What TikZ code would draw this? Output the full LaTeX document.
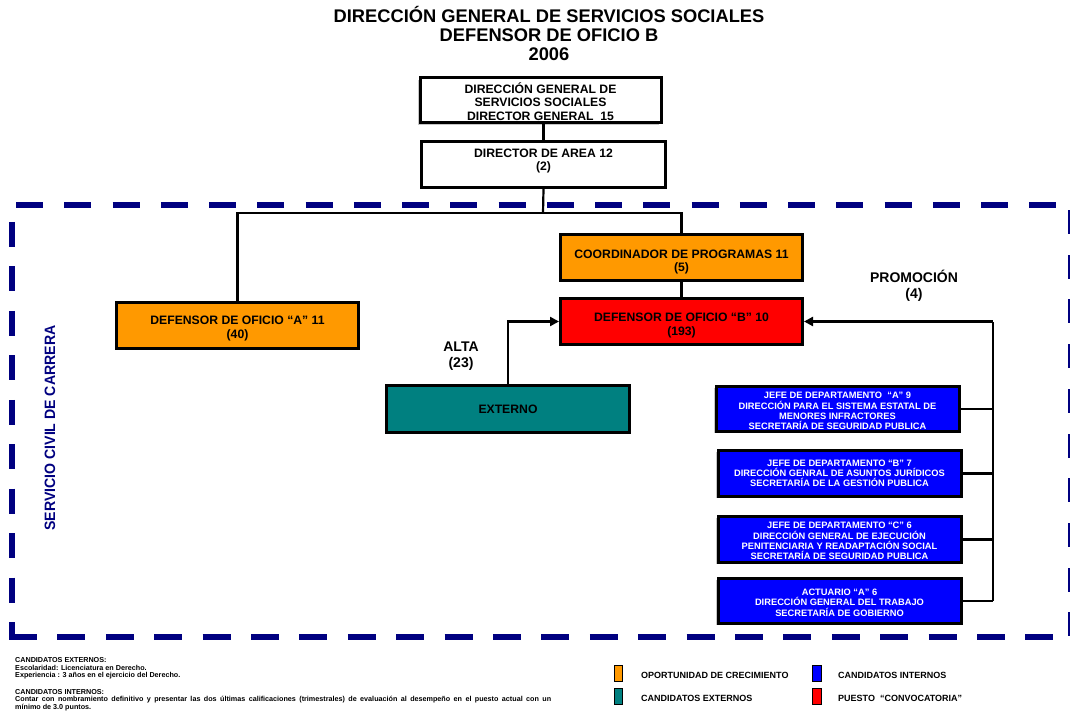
\documentclass[tikz,border=0pt]{standalone}
\usepackage{fontspec}
\setmainfont{Liberation Sans}
\usetikzlibrary{arrows.meta,shadows}
\definecolor{growth}{HTML}{FF9900}
\definecolor{callpost}{HTML}{FF0000}
\definecolor{extern}{HTML}{008080}
\definecolor{intern}{HTML}{0000FF}
\definecolor{career}{HTML}{000080}
\newcommand{\fs}[2]{\fontsize{#1}{#2}\selectfont\bfseries}
% invisible strut that sets the height of a first text line
\newcommand{\lead}[1]{\rule{0pt}{#1pt}}
\begin{document}
\begin{tikzpicture}[x=1pt,y=-1pt,
  box/.style={draw=black, line width=3pt, inner sep=0pt, align=center,
    general shadow={fill=gray!45, shadow xshift=-1.6pt, shadow yshift=-1.6pt}},
  bigbox/.style={box, font=\fs{12.2}{13.5}},
  bluebox/.style={box, fill=intern, text=white, minimum width=243pt, font=\fs{9.3}{10.2}},
  conn/.style={draw=black, line width=2.2pt},
  arrow/.style={conn, -{Triangle[length=9pt,width=9pt]}},
  tag/.style={font=\fs{14}{16}, align=center},
  border/.style={draw=career, line width=6pt},
  swatch/.style={draw=black, line width=1pt, minimum width=8.5pt, minimum height=16pt, inner sep=0pt},
  legend/.style={anchor=west, font=\fs{9}{10}, inner sep=0pt},
  note/.style={anchor=west, font=\fs{7.2}{8}, inner sep=0pt}]
\useasboundingbox (0,0) rectangle (1070,719);

% heading
\node[font=\fs{18.3}{19}, align=center] (title) at (549,33)
  {DIRECCIÓN GENERAL DE SERVICIOS SOCIALES\\DEFENSOR DE OFICIO B\\2006};

% dashed frame of the career civil service
\draw[border, dash pattern=on 27pt off 21.25pt] (16,205) -- (1075,205);
\draw[border, dash pattern=on 25pt off 19.45pt] (12,222) -- (12,637);
\draw[border, dash pattern=on 28pt off 20.4pt] (9,637) -- (1075,637);
\draw[border, dash pattern=on 24pt off 20.7pt] (1071,210) -- (1071,637);
\node[text=career, rotate=90, font=\fs{15}{16}] (scc) at (50,428)
  {\scalebox{0.94}[1]{SERVICIO CIVIL DE CARRERA}};

% hierarchy
\node[bigbox, fill=white, minimum width=241pt, minimum height=45pt] (top) at (540.5,100.5)
  {\lead{12.8}DIRECCIÓN GENERAL DE\\SERVICIOS SOCIALES\\DIRECTOR GENERAL\ \ 15};
\node[bigbox, fill=white, minimum width=244pt, minimum height=46pt] (dir) at (543.5,164.5) {};
\node[font=\fs{12.2}{13.5}, align=center] (dirtext) at (543.5,161) {DIRECTOR DE AREA 12\\(2)};

\node[bigbox, fill=growth, minimum width=242pt, minimum height=46pt] (defA) at (237.5,325.5)
  {\lead{14.9}DEFENSOR DE OFICIO “A” 11\\(40)};
\node[bigbox, fill=growth, minimum width=242pt, minimum height=46pt] (coord) at (681.5,257.5)
  {\lead{17.7}COORDINADOR DE PROGRAMAS 11\\(5)};
\node[bigbox, fill=callpost, minimum width=242pt, minimum height=46pt] (defB) at (681.5,321.5)
  {\lead{16.9}DEFENSOR DE OFICIO “B” 10\\(193)};
\node[bigbox, fill=extern, minimum width=243pt, minimum height=47pt] (ext) at (508,409)
  {EXTERNO};

% internal candidates
\node[bluebox, minimum height=45pt] (jefeA) at (837.5,409)
  {\lead{10.4}JEFE DE DEPARTAMENTO \ “A” 9\\DIRECCIÓN PARA EL SISTEMA ESTATAL DE\\MENORES INFRACTORES\\SECRETARÍA DE SEGURIDAD PUBLICA};
\node[bluebox, minimum height=46pt] (jefeB) at (839.5,473.5)
  {JEFE DE DEPARTAMENTO “B” 7\\DIRECCIÓN GENRAL DE ASUNTOS JURÍDICOS\\SECRETARÍA DE LA GESTIÓN PUBLICA};
\node[bluebox, minimum height=46pt] (jefeC) at (839.5,539.5)
  {\lead{9.4}JEFE DE DEPARTAMENTO “C” 6\\DIRECCIÓN GENERAL DE EJECUCIÓN\\PENITENCIARIA Y READAPTACIÓN SOCIAL\\SECRETARÍA DE SEGURIDAD PUBLICA};
\node[bluebox, minimum height=45pt] (actA) at (839.5,601)
  {\lead{9.8}ACTUARIO “A” 6\\DIRECCIÓN GENERAL DEL TRABAJO\\SECRETARÍA DE GOBIERNO};

% labels of the two entry routes
\node[tag] (alta) at (461,356) {ALTA\\(23)};
\node[tag] (promo) at (914,286) {PROMOCIÓN\\(4)};

% connectors
\coordinate (hub) at (543,213);
\coordinate (busTop) at (993,321.5);
\coordinate (busBot) at (993,601);
\draw[conn] (dir.north) -- (dir.north |- top.south);
\draw[conn] (dir.south) -- (hub);
\draw[conn] (defA.north) |- (hub) -| (coord.north);
\draw[conn] (coord.south) -- (defB.north);
\draw[arrow] (ext.north) |- (defB.west);
\draw[conn] (busBot) -- (busTop);
\draw[arrow] (busTop) -- (defB.east);
\draw[conn] (jefeA.east) -- (jefeA.east -| busTop);
\draw[conn] (jefeB.east) -- (jefeB.east -| busTop);
\draw[conn] (jefeC.east) -- (jefeC.east -| busTop);
\draw[conn] (actA.east) -- (busBot);

% requirements
\node[note] (n1) at (15,660) {CANDIDATOS EXTERNOS:};
\node[note] (n2) at (15,668) {Escolaridad: Licenciatura en Derecho.};
\node[note] (n3) at (15,676) {Experiencia : 3 años en el ejercicio del Derecho.};
\node[note] (n4) at (15,692) {CANDIDATOS INTERNOS:};
\node[note] (n5) at (15,700) {\makebox[536pt][s]{Contar con nombramiento definitivo y presentar las dos últimas calificaciones (trimestrales) de evaluación al desempeño en el puesto actual con un}};
\node[note] (n6) at (15,708) {mínimo de 3.0 puntos.};

% key
\node[swatch, fill=growth] (kOrange) at (618.5,673) {};
\node[swatch, fill=extern] (kTeal) at (618.5,696.5) {};
\node[swatch, fill=intern] (kBlue) at (817,673) {};
\node[swatch, fill=callpost] (kRed) at (817,696.5) {};
\node[legend] (lOrange) at (641,675) {OPORTUNIDAD DE CRECIMIENTO};
\node[legend] (lTeal) at (641,698) {CANDIDATOS EXTERNOS};
\node[legend] (lBlue) at (838,675) {CANDIDATOS INTERNOS};
\node[legend] (lRed) at (838,698) {PUESTO \ “CONVOCATORIA”};
\end{tikzpicture}
\end{document}
